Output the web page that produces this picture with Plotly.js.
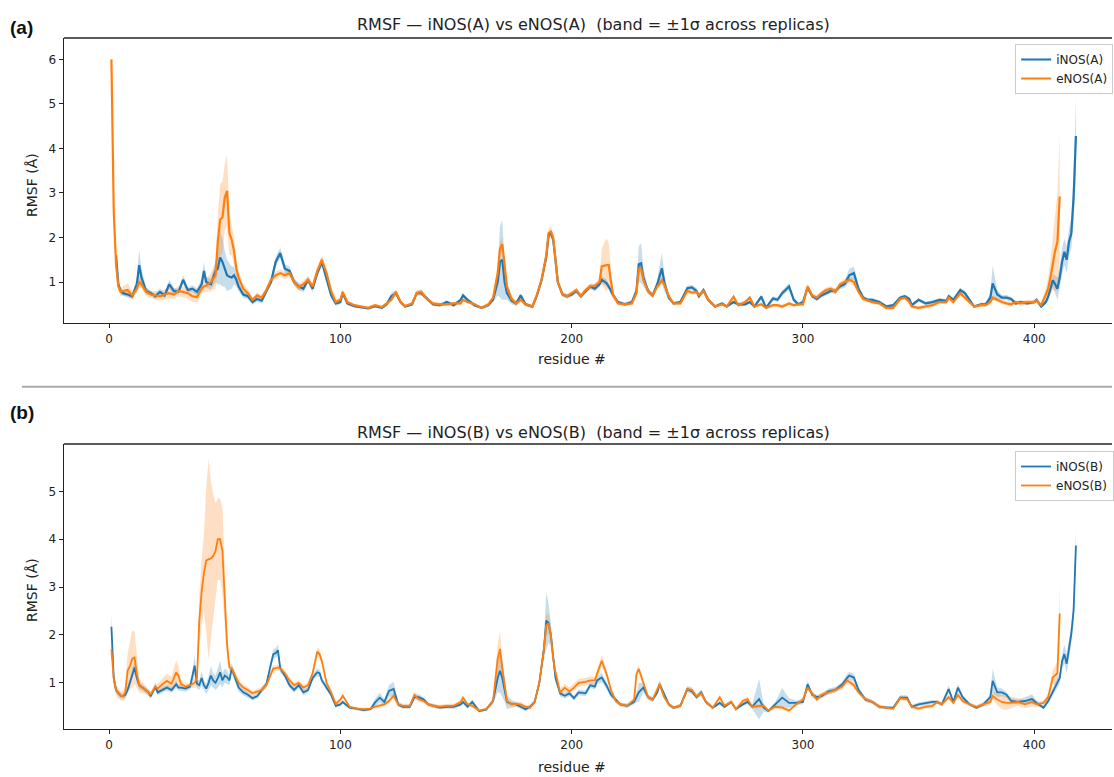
<!DOCTYPE html>
<html>
<head>
<meta charset="utf-8">
<script src="https://cdn.plot.ly/plotly-3.0.1.min.js"></script>
<style>html,body{margin:0;padding:0;background:#fff;}#chart{width:1114px;height:777px;}</style>
</head>
<body>
<div id="chart"></div>
<script>
// ---------- Panel (a) ----------
const resA = [
1,2,3,4,5,6,8,10,12,13,
14,16,18,20,22,24,26,28,30,32,
34,36,38,40,41,42,44,46,47,48,
49,50,51,52,53,54,55,56,58,60,
62,64,66,68,70,72,74,76,78,80,
82,84,86,88,90,92,94,96,98,100,
101,103,106,109,112,115,118,120,122,124,
126,128,131,133,135,137,140,143,146,149,
152,153,155,158,161,164,166,168,169,170,
171,172,174,176,178,180,183,185,187,189,
190,191,192,193,194,196,198,200,202,204,
206,208,210,212,213,215,216,217,218,220,
223,226,228,229,230,231,233,235,237,239,
240,242,244,247,250,252,254,255,257,259,
262,265,267,270,272,275,277,279,282,284,
287,289,291,294,296,298,300,302,304,306,
308,310,312,314,316,318,320,322,324,326,
328,330,333,336,339,342,344,346,347,350,
353,356,359,362,363,365,368,370,372,374,
377,379,381,382,384,386,388,390,392,394,
397,400,401,403,405,406,407,408,409,410,
411,412,413,414,415,416,417,418];
const iNOS_A = [
null,null,1.6,0.95,0.8,0.75,0.72,0.68,0.95,1.38,
1.1,0.8,0.75,0.68,0.78,0.7,0.95,0.8,0.78,1.05,
0.82,0.85,0.78,0.95,1.25,1.0,0.95,1.25,1.3,1.55,
1.45,1.3,1.15,1.12,1.1,1.15,1.05,0.9,0.72,0.68,
0.55,0.62,0.58,0.8,1.0,1.45,1.65,1.3,1.25,1.0,
0.9,0.85,1.05,0.85,1.2,1.45,1.1,0.7,0.52,0.55,
0.75,0.52,0.46,0.44,0.41,0.46,0.42,0.5,0.68,0.75,
0.55,0.45,0.5,0.75,0.75,0.65,0.5,0.48,0.55,0.48,
0.6,0.7,0.6,0.48,0.42,0.48,0.6,1.0,1.45,1.5,
1.0,0.75,0.58,0.52,0.7,0.5,0.45,0.7,1.05,1.55,
2.05,2.1,1.95,1.5,1.0,0.72,0.68,0.72,0.8,0.68,
0.8,0.9,0.85,0.95,1.05,0.98,0.9,0.8,0.7,0.55,
0.5,0.55,0.8,1.4,1.42,1.1,0.8,0.7,0.95,1.31,
1.0,0.65,0.52,0.55,0.86,0.88,0.8,0.68,0.82,0.6,
0.45,0.52,0.45,0.55,0.5,0.5,0.55,0.45,0.67,0.42,
0.63,0.6,0.75,0.9,0.6,0.5,0.55,0.88,0.68,0.62,
0.7,0.75,0.8,0.8,0.9,0.95,1.15,1.2,0.85,0.65,
0.6,0.6,0.55,0.45,0.48,0.65,0.68,0.62,0.48,0.6,
0.52,0.55,0.6,0.58,0.68,0.6,0.82,0.75,0.6,0.45,
0.5,0.5,0.65,0.97,0.72,0.65,0.65,0.62,0.52,0.55,
0.52,0.55,0.6,0.45,0.55,0.67,0.85,1.04,0.95,0.85,
1.1,1.45,1.68,1.5,1.9,2.09,2.9,4.28];
const eNOS_A = [
6.0,2.6,1.4,0.9,0.78,0.8,0.82,0.7,0.85,1.0,
0.95,0.78,0.72,0.7,0.68,0.72,0.75,0.72,0.8,0.78,
0.75,0.68,0.66,0.85,0.9,0.92,1.0,1.15,1.9,2.4,
2.45,2.9,3.05,2.1,1.95,1.7,1.3,1.1,0.85,0.75,
0.6,0.7,0.65,0.82,1.05,1.15,1.2,1.15,1.2,1.0,
0.88,0.95,1.05,0.9,1.25,1.5,1.2,0.8,0.55,0.6,
0.78,0.55,0.48,0.45,0.42,0.48,0.44,0.52,0.6,0.78,
0.55,0.46,0.52,0.75,0.78,0.64,0.52,0.5,0.5,0.52,
0.52,0.6,0.55,0.5,0.42,0.5,0.65,1.2,1.75,1.85,
1.3,0.9,0.62,0.52,0.6,0.5,0.45,0.72,1.05,1.6,
2.1,2.13,2.0,1.5,1.0,0.72,0.68,0.75,0.82,0.68,
0.82,0.9,0.92,1.0,1.35,1.38,1.38,1.0,0.7,0.52,
0.5,0.52,0.75,1.3,1.3,1.05,0.8,0.7,0.9,1.04,
0.95,0.68,0.52,0.52,0.8,0.76,0.78,0.7,0.8,0.6,
0.45,0.5,0.45,0.67,0.48,0.55,0.65,0.45,0.5,0.42,
0.48,0.48,0.45,0.52,0.48,0.5,0.5,0.9,0.7,0.65,
0.75,0.82,0.85,0.78,0.95,1.0,1.05,1.0,0.78,0.62,
0.58,0.55,0.52,0.42,0.42,0.62,0.65,0.55,0.45,0.42,
0.45,0.48,0.55,0.55,0.65,0.55,0.75,0.65,0.55,0.45,
0.48,0.48,0.55,0.65,0.6,0.55,0.52,0.5,0.55,0.52,
0.55,0.55,0.58,0.48,0.72,0.85,1.1,1.42,1.7,1.9,
2.92,null,null,null,null,null,null,null];
const sdI_A = [
0,0,0.1,0.08,0.06,0.06,0.06,0.06,0.15,0.35,
0.2,0.08,0.06,0.06,0.08,0.06,0.1,0.08,0.06,0.1,
0.06,0.08,0.08,0.12,0.2,0.12,0.12,0.25,0.35,0.6,
0.55,0.4,0.35,0.3,0.25,0.2,0.15,0.1,0.08,0.06,
0.06,0.06,0.06,0.08,0.08,0.12,0.12,0.1,0.1,0.08,
0.08,0.08,0.08,0.08,0.08,0.1,0.08,0.06,0.05,0.05,
0.05,0.04,0.03,0.03,0.03,0.03,0.03,0.04,0.08,0.06,
0.04,0.03,0.04,0.06,0.06,0.05,0.04,0.04,0.04,0.04,
0.04,0.05,0.04,0.04,0.03,0.04,0.05,0.3,0.8,0.9,
0.4,0.15,0.08,0.05,0.06,0.04,0.04,0.05,0.06,0.08,
0.08,0.08,0.08,0.08,0.06,0.05,0.05,0.05,0.05,0.05,
0.05,0.06,0.06,0.06,0.08,0.08,0.06,0.06,0.05,0.04,
0.04,0.04,0.1,0.4,0.45,0.2,0.08,0.06,0.1,0.35,
0.2,0.06,0.04,0.04,0.06,0.06,0.06,0.05,0.06,0.05,
0.03,0.04,0.03,0.04,0.04,0.04,0.04,0.03,0.06,0.03,
0.05,0.05,0.06,0.08,0.05,0.04,0.04,0.06,0.05,0.05,
0.05,0.05,0.06,0.06,0.06,0.08,0.15,0.15,0.08,0.05,
0.04,0.04,0.04,0.04,0.04,0.04,0.04,0.04,0.04,0.04,
0.04,0.04,0.04,0.04,0.05,0.04,0.06,0.05,0.04,0.03,
0.04,0.04,0.1,0.4,0.1,0.06,0.06,0.05,0.04,0.04,
0.04,0.04,0.05,0.04,0.05,0.08,0.1,0.15,0.2,0.25,
0.25,0.3,0.3,0.3,0.3,0.35,0.5,0.85];
const sdE_A = [
0.2,0.3,0.15,0.1,0.1,0.1,0.15,0.1,0.1,0.1,
0.1,0.1,0.08,0.1,0.1,0.12,0.12,0.1,0.12,0.12,
0.12,0.12,0.12,0.12,0.12,0.15,0.2,0.3,0.6,0.8,
0.8,0.75,0.8,0.5,0.35,0.3,0.2,0.15,0.1,0.08,
0.06,0.06,0.06,0.08,0.08,0.08,0.08,0.08,0.08,0.08,
0.08,0.08,0.08,0.08,0.08,0.1,0.08,0.06,0.05,0.05,
0.05,0.04,0.03,0.03,0.03,0.03,0.03,0.04,0.05,0.06,
0.04,0.03,0.04,0.06,0.06,0.05,0.04,0.04,0.04,0.04,
0.04,0.04,0.04,0.04,0.03,0.04,0.05,0.15,0.15,0.15,
0.15,0.1,0.08,0.06,0.05,0.04,0.04,0.05,0.06,0.08,
0.1,0.12,0.1,0.08,0.06,0.05,0.05,0.05,0.05,0.05,
0.05,0.06,0.06,0.08,0.4,0.6,0.5,0.3,0.08,0.04,
0.04,0.04,0.06,0.1,0.1,0.08,0.06,0.06,0.06,0.08,
0.06,0.05,0.04,0.04,0.05,0.05,0.05,0.05,0.05,0.05,
0.03,0.04,0.03,0.05,0.04,0.04,0.05,0.03,0.04,0.03,
0.04,0.04,0.04,0.04,0.04,0.04,0.04,0.06,0.05,0.05,
0.05,0.05,0.06,0.06,0.06,0.06,0.08,0.08,0.06,0.05,
0.04,0.04,0.04,0.04,0.04,0.04,0.04,0.04,0.04,0.04,
0.04,0.04,0.04,0.04,0.05,0.04,0.05,0.05,0.04,0.03,
0.04,0.04,0.05,0.05,0.05,0.05,0.05,0.05,0.05,0.05,
0.05,0.05,0.05,0.05,0.15,0.25,0.4,0.6,0.9,1.1,
1.4,0,0,0,0,0,0,0];

// ---------- Panel (b) ----------
const resB = [
1,2,3,4,5,6,7,8,9,10,
11,12,13,15,17,18,20,21,23,25,
27,29,30,31,33,35,37,38,39,40,
41,42,43,44,45,46,47,48,49,50,
51,52,53,54,56,58,60,62,64,66,
68,70,71,72,73,74,76,78,80,82,
84,86,88,90,91,92,94,96,98,100,
101,104,107,110,113,115,117,119,121,123,
125,127,130,132,134,136,138,140,143,146,
149,152,153,155,157,160,163,166,168,169,
170,171,172,174,176,178,180,182,184,186,
188,189,190,191,192,193,195,197,199,201,
203,206,208,210,211,213,215,217,219,221,
224,227,228,229,231,233,235,237,238,240,
242,244,247,250,252,254,256,258,261,264,
266,269,271,274,276,278,281,283,285,288,
291,294,297,300,302,304,306,308,311,314,
317,319,320,322,324,327,330,333,336,339,
342,345,347,350,353,356,358,360,363,365,
367,369,372,375,378,381,382,384,386,388,
390,393,396,399,401,404,406,408,410,411,
412,413,414,415,416,417,418];
const iNOS_B = [
2.17,1.1,0.85,0.78,0.73,0.72,0.75,0.85,1.0,1.2,
1.32,1.1,0.95,0.88,0.8,0.72,0.92,0.8,0.85,0.9,
0.85,0.97,0.9,0.9,0.88,0.92,1.36,0.98,0.95,1.1,
0.95,0.88,1.0,1.15,1.05,1.0,1.1,1.22,1.05,1.15,
1.12,1.05,1.3,1.15,0.9,0.8,0.75,0.68,0.72,0.85,
0.97,1.4,1.6,1.62,1.68,1.3,1.15,0.95,0.85,0.95,
0.8,0.85,1.1,1.22,1.2,1.05,0.9,0.75,0.52,0.55,
0.6,0.48,0.46,0.43,0.45,0.59,0.69,0.6,0.83,0.87,
0.55,0.5,0.5,0.7,0.7,0.65,0.55,0.52,0.48,0.5,
0.5,0.55,0.6,0.5,0.6,0.41,0.44,0.62,1.1,1.25,
1.1,0.85,0.6,0.56,0.55,0.5,0.45,0.5,0.6,1.0,
1.71,2.3,2.25,2.0,1.5,1.1,0.78,0.73,0.78,0.68,
0.8,0.78,0.95,0.92,1.05,1.11,0.95,0.75,0.65,0.55,
0.52,0.6,0.7,0.8,0.9,0.7,0.65,0.8,0.97,0.75,
0.55,0.48,0.52,0.87,0.82,0.7,0.8,0.6,0.48,0.58,
0.5,0.6,0.45,0.55,0.6,0.5,0.66,0.48,0.41,0.55,
0.69,0.58,0.58,0.6,0.97,0.75,0.7,0.72,0.82,0.85,
0.97,1.1,1.15,1.11,0.85,0.65,0.6,0.5,0.48,0.48,
0.69,0.69,0.5,0.55,0.58,0.6,0.6,0.55,0.87,0.6,
0.9,0.7,0.55,0.48,0.55,0.7,1.04,0.8,0.8,0.75,
0.62,0.6,0.62,0.66,0.58,0.48,0.62,0.8,1.0,1.1,
1.45,1.6,1.4,1.75,2.02,2.51,3.87];
const eNOS_B = [
1.7,1.1,0.85,0.78,0.73,0.72,0.8,1.25,1.35,1.5,
1.53,1.2,0.95,0.88,0.8,0.76,0.92,0.88,0.97,1.04,
0.98,1.22,1.15,0.98,0.92,0.95,1.0,1.1,2.3,2.9,
3.3,3.56,3.58,3.6,3.65,3.75,4.0,4.0,3.75,2.8,
1.8,1.32,1.3,1.2,1.0,0.9,0.85,0.78,0.82,0.85,
0.95,1.2,1.3,1.3,1.32,1.3,1.2,1.05,0.95,1.0,
0.9,0.95,1.2,1.65,1.6,1.45,1.0,0.8,0.56,0.65,
0.73,0.5,0.46,0.45,0.46,0.5,0.52,0.55,0.62,0.73,
0.55,0.52,0.52,0.75,0.65,0.62,0.55,0.52,0.5,0.52,
0.52,0.6,0.69,0.55,0.52,0.42,0.45,0.62,1.5,1.71,
1.3,0.9,0.62,0.55,0.56,0.55,0.5,0.48,0.6,1.0,
1.71,2.2,2.23,2.0,1.5,1.22,0.8,0.9,0.82,0.9,
1.0,1.02,1.05,1.05,1.18,1.46,1.2,0.85,0.62,0.55,
0.52,0.65,1.18,1.29,1.0,0.7,0.65,0.88,0.97,0.7,
0.55,0.48,0.52,0.87,0.85,0.72,0.78,0.6,0.48,0.7,
0.52,0.6,0.45,0.62,0.66,0.5,0.52,0.52,0.42,0.5,
0.48,0.42,0.55,0.65,0.9,0.78,0.65,0.75,0.8,0.85,
0.92,1.05,1.02,0.95,0.8,0.66,0.6,0.5,0.48,0.46,
0.68,0.66,0.5,0.46,0.5,0.52,0.6,0.55,0.7,0.58,
0.75,0.62,0.55,0.5,0.55,0.6,0.73,0.65,0.6,0.58,
0.58,0.6,0.55,0.6,0.55,0.58,0.7,1.11,1.2,2.45,
null,null,null,null,null,null,null];
const sdI_B = [
0.3,0.15,0.08,0.06,0.06,0.06,0.06,0.08,0.1,0.12,
0.12,0.1,0.08,0.06,0.06,0.06,0.06,0.06,0.06,0.06,
0.06,0.08,0.06,0.06,0.06,0.06,0.2,0.1,0.1,0.15,
0.1,0.1,0.15,0.2,0.15,0.15,0.2,0.25,0.15,0.15,
0.15,0.1,0.1,0.1,0.08,0.06,0.06,0.05,0.05,0.06,
0.06,0.08,0.1,0.1,0.12,0.08,0.06,0.06,0.06,0.06,
0.06,0.06,0.06,0.08,0.08,0.06,0.06,0.05,0.04,0.04,
0.04,0.03,0.03,0.03,0.03,0.08,0.1,0.06,0.12,0.15,
0.05,0.04,0.04,0.06,0.06,0.05,0.04,0.04,0.04,0.04,
0.04,0.04,0.05,0.04,0.05,0.03,0.03,0.05,0.3,0.45,
0.4,0.25,0.15,0.08,0.05,0.05,0.04,0.04,0.05,0.08,
0.2,0.6,0.4,0.25,0.12,0.08,0.06,0.06,0.06,0.05,
0.06,0.06,0.06,0.06,0.08,0.1,0.08,0.06,0.05,0.04,
0.04,0.05,0.1,0.2,0.1,0.06,0.05,0.06,0.08,0.06,
0.04,0.03,0.04,0.06,0.06,0.05,0.06,0.05,0.03,0.04,
0.04,0.04,0.03,0.04,0.04,0.04,0.42,0.08,0.03,0.05,
0.2,0.1,0.05,0.05,0.08,0.06,0.05,0.05,0.06,0.06,
0.06,0.08,0.08,0.08,0.06,0.05,0.04,0.04,0.03,0.03,
0.05,0.05,0.04,0.04,0.04,0.04,0.04,0.04,0.08,0.04,
0.08,0.05,0.04,0.03,0.04,0.06,0.25,0.1,0.08,0.06,
0.05,0.05,0.08,0.1,0.05,0.04,0.05,0.08,0.1,0.12,
0.15,0.2,0.2,0.2,0.2,0.25,0.3];
const sdE_B = [
0.1,0.1,0.1,0.1,0.1,0.1,0.15,0.35,0.5,0.6,
0.55,0.3,0.15,0.1,0.08,0.06,0.08,0.1,0.12,0.15,
0.15,0.25,0.2,0.1,0.06,0.06,0.1,0.2,0.5,0.7,
0.8,1.5,2.1,1.6,1.3,1.0,0.85,0.85,0.9,0.6,
0.3,0.1,0.08,0.08,0.06,0.06,0.06,0.05,0.05,0.06,
0.06,0.06,0.06,0.06,0.06,0.06,0.06,0.06,0.06,0.06,
0.06,0.06,0.06,0.1,0.1,0.08,0.06,0.05,0.04,0.04,
0.04,0.03,0.03,0.03,0.03,0.04,0.04,0.04,0.05,0.06,
0.05,0.04,0.04,0.06,0.06,0.05,0.04,0.04,0.04,0.04,
0.04,0.04,0.05,0.04,0.04,0.03,0.03,0.05,0.3,0.38,
0.2,0.1,0.06,0.05,0.05,0.05,0.04,0.04,0.05,0.08,
0.15,0.25,0.2,0.15,0.1,0.08,0.08,0.08,0.08,0.08,
0.08,0.08,0.08,0.08,0.1,0.12,0.1,0.06,0.05,0.04,
0.04,0.05,0.08,0.08,0.06,0.05,0.05,0.06,0.08,0.05,
0.04,0.03,0.04,0.06,0.06,0.05,0.06,0.05,0.03,0.04,
0.04,0.04,0.03,0.04,0.05,0.04,0.04,0.04,0.03,0.04,
0.04,0.04,0.04,0.05,0.06,0.05,0.05,0.05,0.05,0.05,
0.06,0.06,0.06,0.06,0.05,0.05,0.04,0.04,0.03,0.03,
0.05,0.05,0.04,0.04,0.04,0.04,0.04,0.04,0.05,0.04,
0.05,0.05,0.04,0.04,0.05,0.06,0.08,0.12,0.15,0.15,
0.12,0.08,0.08,0.1,0.06,0.05,0.08,0.15,0.25,0.6,
0,0,0,0,0,0,0];

const xTicks = [0, 100, 200, 300, 400];
const yTicksA = [1, 2, 3, 4, 5, 6];
const yTicksB = [1, 2, 3, 4, 5];

const BLUE = '#1f77b4', ORANGE = '#ff7f0e';
const BLUE_F = 'rgba(31,119,180,0.25)', ORANGE_F = 'rgba(255,127,14,0.25)';

function band(x, m, s, xa, ya, color) {
  const xs = [], up = [], lo = [];
  const n = Math.min(x.length, m.length, s.length);
  for (let i = 0; i < n; i++) {
    if (m[i] === null) continue;
    xs.push(x[i]); up.push(m[i] + s[i]); lo.push(m[i] - s[i]);
  }
  return {x: xs.concat(xs.slice().reverse()), y: up.concat(lo.slice().reverse()),
    type: 'scatter', mode: 'lines', fill: 'toself', fillcolor: color,
    line: {width: 0, color: 'rgba(0,0,0,0)'}, hoverinfo: 'skip', showlegend: false,
    xaxis: xa, yaxis: ya};
}
function line(x, m, name, color, w, xa, ya, leg) {
  return {x: x, y: m, name: name, type: 'scatter', mode: 'lines',
    line: {color: color, width: w}, xaxis: xa, yaxis: ya, legend: leg, connectgaps: false};
}

const data = [
  band(resA, iNOS_A, sdI_A, 'x', 'y', BLUE_F),
  band(resA, eNOS_A, sdE_A, 'x', 'y', ORANGE_F),
  line(resA, iNOS_A, 'iNOS(A)', BLUE, 2.2, 'x', 'y', 'legend'),
  line(resA, eNOS_A, 'eNOS(A)', ORANGE, 2.2, 'x', 'y', 'legend'),
  band(resB, iNOS_B, sdI_B, 'x2', 'y2', BLUE_F),
  band(resB, eNOS_B, sdE_B, 'x2', 'y2', ORANGE_F),
  line(resB, iNOS_B, 'iNOS(B)', BLUE, 1.8, 'x2', 'y2', 'legend2'),
  line(resB, eNOS_B, 'eNOS(B)', ORANGE, 1.8, 'x2', 'y2', 'legend2')
];

const W = 1114, H = 777;
const FONT = 'DejaVu Sans, sans-serif';
const axCommon = {showgrid: false, zeroline: false, showline: true, linecolor: '#222', linewidth: 1.3,
  ticks: 'outside', ticklen: 4, tickwidth: 1, tickcolor: '#222',
  tickfont: {family: FONT, size: 12, color: '#222'}};
const xr = [-19.55, 433.6];

const legendCommon = {xanchor: 'left', yanchor: 'top', bgcolor: 'rgba(255,255,255,0.9)',
  bordercolor: '#cccccc', borderwidth: 1, font: {family: FONT, size: 12, color: '#222'},
  tracegroupgap: 0, itemwidth: 30};

const layout = {
  width: W, height: H, margin: {l: 0, r: 0, t: 0, b: 0},
  paper_bgcolor: '#fff', plot_bgcolor: '#fff', font: {family: FONT},
  xaxis: Object.assign({}, axCommon, {domain: [64/W, 1], range: xr, tickvals: xTicks, anchor: 'y'}),
  yaxis: Object.assign({}, axCommon, {domain: [1-323/H, 1-38/H], range: [0.08, 6.48], tickvals: yTicksA, anchor: 'x'}),
  xaxis2: Object.assign({}, axCommon, {domain: [64/W, 1], range: xr, tickvals: xTicks, anchor: 'y2'}),
  yaxis2: Object.assign({}, axCommon, {domain: [1-729/H, 1-444/H], range: [0.035, 5.99], tickvals: yTicksB, anchor: 'x2'}),
  legend: Object.assign({}, legendCommon, {x: 1017/W, y: 1-44/H}),
  legend2: Object.assign({}, legendCommon, {x: 1017/W, y: 1-451/H}),
  shapes: [
    {type: 'line', xref: 'x domain', yref: 'y domain', x0: 0, x1: 1, y0: 1, y1: 1, line: {color: '#222', width: 1.3}},
    {type: 'line', xref: 'x2 domain', yref: 'y2 domain', x0: 0, x1: 1, y0: 1, y1: 1, line: {color: '#222', width: 1.3}},
    {type: 'line', xref: 'paper', yref: 'paper', x0: 22/W, x1: 1, y0: 1-386.7/H, y1: 1-386.7/H, line: {color: '#aaaaaa', width: 2}}
  ],
  annotations: [
    {text: 'RMSF — iNOS(A) vs eNOS(A) \u00a0(band = ±1σ across replicas)', xref: 'paper', yref: 'paper',
      x: 595/W, y: 1-24/H, xanchor: 'center', yanchor: 'middle', showarrow: false,
      font: {family: FONT, size: 16, color: '#222'}},
    {text: 'RMSF — iNOS(B) vs eNOS(B) \u00a0(band = ±1σ across replicas)', xref: 'paper', yref: 'paper',
      x: 595/W, y: 1-432/H, xanchor: 'center', yanchor: 'middle', showarrow: false,
      font: {family: FONT, size: 16, color: '#222'}},
    {text: '<b>(a)</b>', xref: 'paper', yref: 'paper', x: 8/W, y: 1-28/H, xanchor: 'left', yanchor: 'middle',
      showarrow: false, font: {family: 'Liberation Sans, Arial, sans-serif', size: 19, color: '#111'}},
    {text: '<b>(b)</b>', xref: 'paper', yref: 'paper', x: 8/W, y: 1-412/H, xanchor: 'left', yanchor: 'middle',
      showarrow: false, font: {family: 'Liberation Sans, Arial, sans-serif', size: 19, color: '#111'}},
    {text: 'residue #', xref: 'paper', yref: 'paper', x: 573/W, y: 1-359/H, xanchor: 'center', yanchor: 'middle',
      showarrow: false, font: {family: FONT, size: 14, color: '#222'}},
    {text: 'residue #', xref: 'paper', yref: 'paper', x: 573/W, y: 1-767/H, xanchor: 'center', yanchor: 'middle',
      showarrow: false, font: {family: FONT, size: 14, color: '#222'}},
    {text: 'RMSF (Å)', xref: 'paper', yref: 'paper', x: 32/W, y: 1-185/H, xanchor: 'center', yanchor: 'middle',
      textangle: -90, showarrow: false, font: {family: FONT, size: 14, color: '#222'}},
    {text: 'RMSF (Å)', xref: 'paper', yref: 'paper', x: 32/W, y: 1-590/H, xanchor: 'center', yanchor: 'middle',
      textangle: -90, showarrow: false, font: {family: FONT, size: 14, color: '#222'}}
  ]
};

Plotly.newPlot('chart', data, layout, {displayModeBar: false, staticPlot: true});
</script>
</body>
</html>
